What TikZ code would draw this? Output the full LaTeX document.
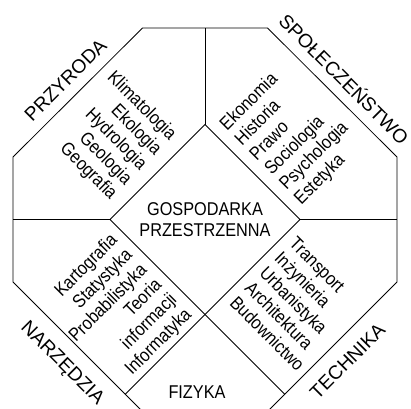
\documentclass[tikz,border=0pt]{standalone}
\usepackage{fontspec}
\usetikzlibrary{calc}
\newfontfamily\labelfont[FakeStretch=0.88]{Liberation Sans}
\newfontfamily\fieldfont{Liberation Sans}
\begin{document}
\begin{tikzpicture}[x=1pt,y=-1pt,
  wall/.style={line width=0.8pt, black},
  term/.style={font=\labelfont\fontsize{18.5}{21}\selectfont, inner sep=0pt},
  field/.style={font=\fieldfont\fontsize{19.2}{21}\selectfont, inner sep=0pt, anchor=base},
  listl/.style={term, align=left},
  listr/.style={term, align=right}]
\useasboundingbox (0,0) rectangle (411,408);
\clip (0,0) rectangle (411,408);
% outer octagon
\coordinate (o1) at (142.5,28);
\coordinate (o2) at (267.5,28);
\coordinate (o3) at (397,157);
\coordinate (o4) at (397,282);
\coordinate (o5) at (267.5,411.5);
\coordinate (o6) at (142.5,411.5);
\coordinate (o7) at (13,282);
\coordinate (o8) at (13,157);
\draw[wall] (o1) -- (o2) -- (o3) -- (o4) -- (o5) -- (o6) -- (o7) -- (o8) -- cycle;
% central diamond
\coordinate (dt) at (205,124.5);
\coordinate (dr) at (300,219.5);
\coordinate (db) at (205,314.5);
\coordinate (dl) at (110,219.5);
\draw[wall] (dt) -- (dr) -- (db) -- (dl) -- cycle;
% dividers between the fields
\draw[wall] (dt) -- (dt |- o1);
\draw[wall] (dl) -- (dl -| o8);
\draw[wall] (dr) -- (dr -| o3);
\draw[wall] (db) -- ($(o6)!(db)!(o7)$);
\draw[wall] (db) -- ($(o4)!(db)!(o5)$);
% centre and bottom field
\node[term, align=center] (core) at (205,220) {GOSPODARKA\\PRZESTRZENNA};
\node[term, anchor=base] (fizyka) at (197,398) {FIZYKA};
% field names along the diagonal edges
\node[field, rotate=45] (przyroda) at (70.2,84.7) {PRZYRODA};
\node[field, rotate=-45] (spoleczenstwo) at (339,84.2) {SPOŁECZEŃSTWO};
\node[field, rotate=-45] (narzedzia) at (58.6,366.7) {NARZĘDZIA};
\node[field, rotate=45] (technika) at (352.2,365.7) {TECHNIKA};
% disciplines of each field
\node[listr, rotate=-45] (nature) at (111.7,135.9) {Klimatologia\\Ekologia\\Hydrologia\\Geologia\\Geografia};
\node[listl, rotate=45] (society) at (292,134) {Ekonomia\\Historia\\Prawo\\Sociologia\\Psychologia\\Estetyka};
\node[listr, rotate=45] (tools) at (116,311) {Kartografia\\Statystyka\\Probabilistyka\\Teoria\\informacji\\Informatyka};
\node[listl, rotate=-45] (engineering) at (297,304) {Transport\\Inżynieria\\Urbanistyka\\Architektura\\Budownictwo};
\end{tikzpicture}
\end{document}
